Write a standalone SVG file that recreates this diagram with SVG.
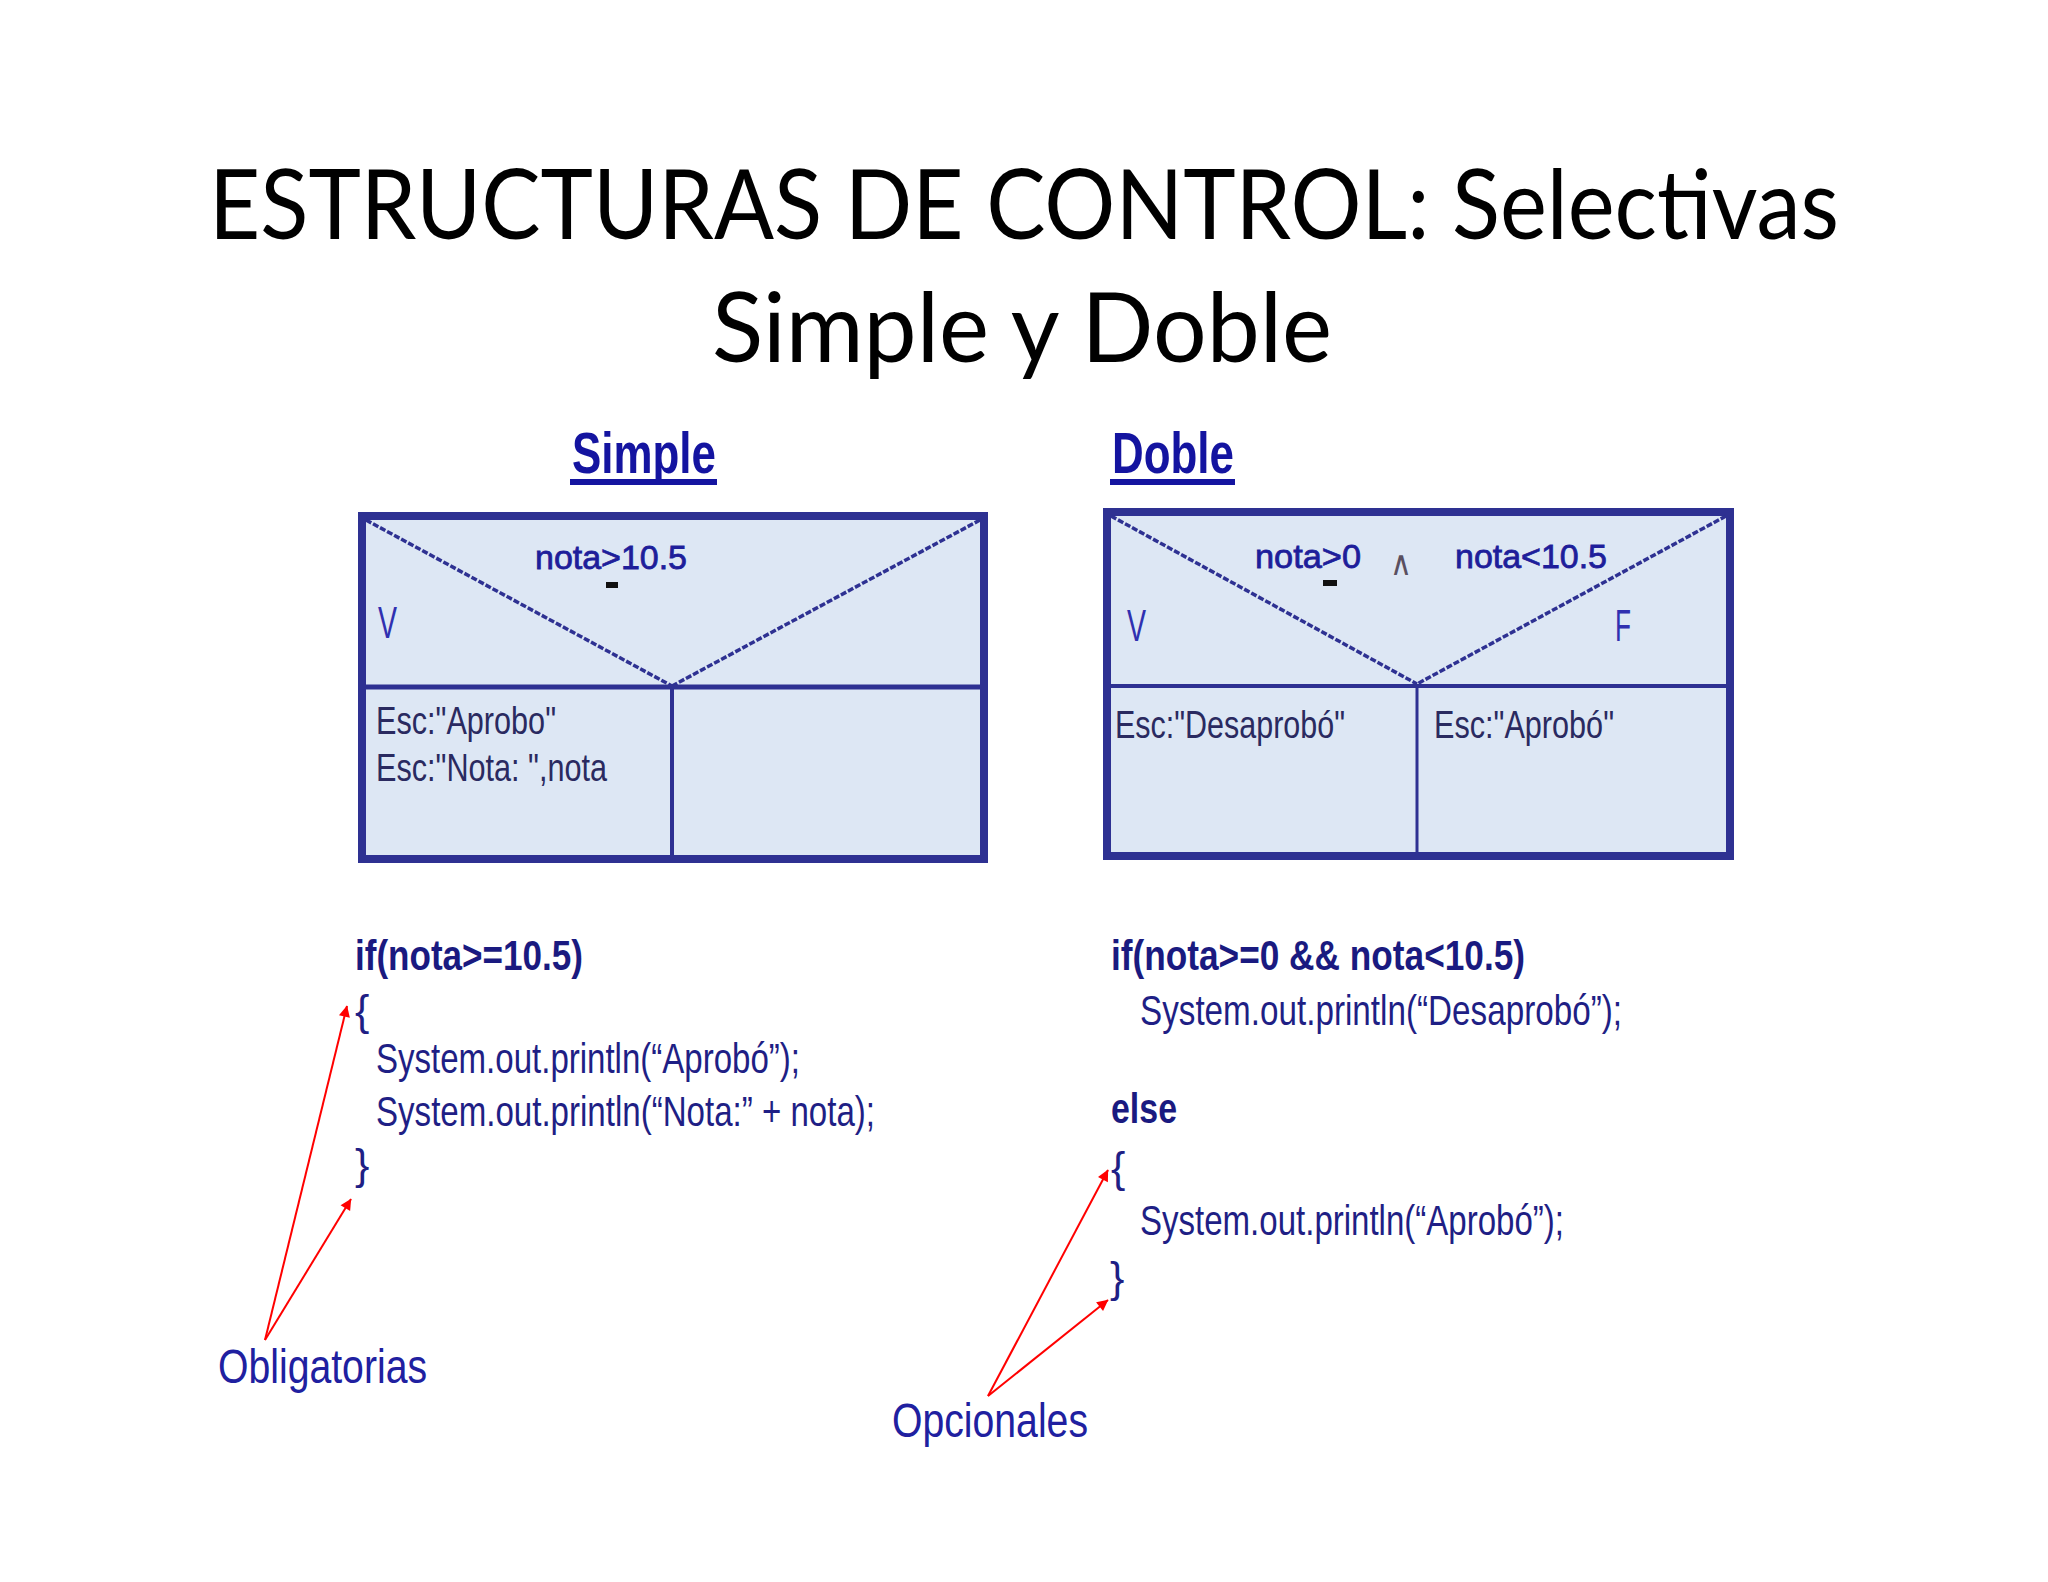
<svg xmlns="http://www.w3.org/2000/svg" width="2048" height="1582" viewBox="0 0 2048 1582">
<defs>
<style>
.title{font-family:Lato,"Open Sans","Liberation Sans",sans-serif;font-size:96px;fill:#000}
.head{font-family:"Liberation Sans",Arial,sans-serif;font-weight:bold;font-size:57px;fill:#1414a0}
.box{fill:#dde7f4;stroke:#2e3192;stroke-width:8}
.div{stroke:#2e3192;fill:none}
.diag{stroke:#2e3192;stroke-width:3.5;stroke-dasharray:6 2;fill:none}
.cond{font-family:"Liberation Sans",Arial,sans-serif;font-size:34px;fill:#1e1e9a;stroke:#1e1e9a;stroke-width:0.8}
.lbl{font-family:"Liberation Sans",Arial,sans-serif;font-size:44px;fill:#3030b0}
.esc{font-family:"Liberation Sans",Arial,sans-serif;font-size:38px;fill:#2a2a60}
.code{font-family:"Liberation Sans",Arial,sans-serif;font-size:43px;fill:#1f1f85}
.codeb{font-family:"Liberation Sans",Arial,sans-serif;font-size:43px;font-weight:bold;fill:#1a1a80}
.note{font-family:"Liberation Sans",Arial,sans-serif;font-size:49px;fill:#2020a0}
.arrow{stroke:#ff0000;stroke-width:2;fill:none;marker-end:url(#ah)}
</style>
<marker id="ah" viewBox="0 0 10 10" refX="9" refY="5" markerWidth="7" markerHeight="7" markerUnits="userSpaceOnUse" orient="auto" overflow="visible">
<path d="M0,0 L10,5 L0,10 z" fill="#ff0000" transform="scale(1.6) translate(-4,-1.9)"/>
</marker>
</defs>
<rect width="2048" height="1582" fill="#ffffff"/>

<g id="title">
<text class="title" x="209" y="239" textLength="1630" lengthAdjust="spacingAndGlyphs">ESTRUCTURAS DE CONTROL: Selectivas</text>
<text class="title" x="712" y="362" textLength="620" lengthAdjust="spacingAndGlyphs">Simple y Doble</text>
</g>

<g id="simple-heading">
<text class="head" x="572" y="473" textLength="144" lengthAdjust="spacingAndGlyphs">Simple</text>
<rect x="570" y="479" width="147" height="6" fill="#1414a0"/>
</g>
<g id="doble-heading">
<text class="head" x="1112" y="473" textLength="122" lengthAdjust="spacingAndGlyphs">Doble</text>
<rect x="1110" y="479" width="125" height="6" fill="#1414a0"/>
</g>

<g id="simple-box">
<rect class="box" x="362" y="516" width="622" height="343"/>
<line class="diag" x1="366" y1="520" x2="672" y2="686"/>
<line class="diag" x1="980" y1="520" x2="672" y2="686"/>
<line class="div" x1="362" y1="687" x2="984" y2="687" stroke-width="5"/>
<line class="div" x1="672" y1="687" x2="672" y2="859" stroke-width="4"/>
<text class="cond" x="535" y="569" textLength="152" lengthAdjust="spacingAndGlyphs">nota&gt;10.5</text>
<rect x="606" y="582" width="12" height="6" fill="#111111"/>
<text class="lbl" x="378" y="638" textLength="19" lengthAdjust="spacingAndGlyphs">V</text>
<text class="esc" x="376" y="734" textLength="180" lengthAdjust="spacingAndGlyphs">Esc:"Aprobo"</text>
<text class="esc" x="376" y="781" textLength="231" lengthAdjust="spacingAndGlyphs">Esc:"Nota: ",nota</text>
</g>

<g id="doble-box">
<rect class="box" x="1107" y="512" width="623" height="344"/>
<line class="diag" x1="1111" y1="516" x2="1417" y2="684"/>
<line class="diag" x1="1726" y1="516" x2="1417" y2="684"/>
<line class="div" x1="1107" y1="686" x2="1730" y2="686" stroke-width="4"/>
<line class="div" x1="1417" y1="686" x2="1417" y2="856" stroke-width="3"/>
<text class="cond" x="1255" y="568" textLength="106" lengthAdjust="spacingAndGlyphs">nota&gt;0</text>
<rect x="1323" y="580" width="14" height="6" fill="#111111"/>
<text x="1390" y="575" font-family="DejaVu Sans,sans-serif" font-size="34" fill="#5a5060" textLength="22" lengthAdjust="spacingAndGlyphs">∧</text>
<text class="cond" x="1455" y="568" textLength="152" lengthAdjust="spacingAndGlyphs">nota&lt;10.5</text>
<text class="lbl" x="1127" y="641" textLength="19" lengthAdjust="spacingAndGlyphs">V</text>
<text class="lbl" x="1615" y="641" textLength="16" lengthAdjust="spacingAndGlyphs" fill="#2020a0">F</text>
<text class="esc" x="1115" y="738" textLength="230" lengthAdjust="spacingAndGlyphs">Esc:"Desaprobó"</text>
<text class="esc" x="1434" y="738" textLength="180" lengthAdjust="spacingAndGlyphs">Esc:"Aprobó"</text>
</g>

<g id="simple-code">
<text class="codeb" x="355" y="970" textLength="228" lengthAdjust="spacingAndGlyphs">if(nota&gt;=10.5)</text>
<text class="code" x="355" y="1025">{</text>
<text class="code" x="376" y="1073" textLength="424" lengthAdjust="spacingAndGlyphs">System.out.println(“Aprobó”);</text>
<text class="code" x="376" y="1126" textLength="499" lengthAdjust="spacingAndGlyphs">System.out.println(“Nota:” + nota);</text>
<text class="code" x="355" y="1179">}</text>
</g>
<g id="obligatorias">
<text class="note" x="218" y="1383" textLength="209" lengthAdjust="spacingAndGlyphs">Obligatorias</text>
</g>

<g id="doble-code">
<text class="codeb" x="1111" y="970" textLength="414" lengthAdjust="spacingAndGlyphs">if(nota&gt;=0 &amp;&amp; nota&lt;10.5)</text>
<text class="code" x="1140" y="1025" textLength="482" lengthAdjust="spacingAndGlyphs">System.out.println(“Desaprobó”);</text>
<text class="codeb" x="1111" y="1123" textLength="66" lengthAdjust="spacingAndGlyphs">else</text>
<text class="code" x="1111" y="1182">{</text>
<text class="code" x="1140" y="1235" textLength="424" lengthAdjust="spacingAndGlyphs">System.out.println(“Aprobó”);</text>
<text class="code" x="1110" y="1292">}</text>
</g>
<g id="opcionales">
<text class="note" x="892" y="1437" textLength="196" lengthAdjust="spacingAndGlyphs">Opcionales</text>
</g>

<g id="connectors">
<line class="arrow" x1="265" y1="1340" x2="347" y2="1006"/>
<line class="arrow" x1="265" y1="1340" x2="351" y2="1199"/>
<line class="arrow" x1="988" y1="1396" x2="1108" y2="1170"/>
<line class="arrow" x1="988" y1="1396" x2="1108" y2="1300"/>
</g>
</svg>
